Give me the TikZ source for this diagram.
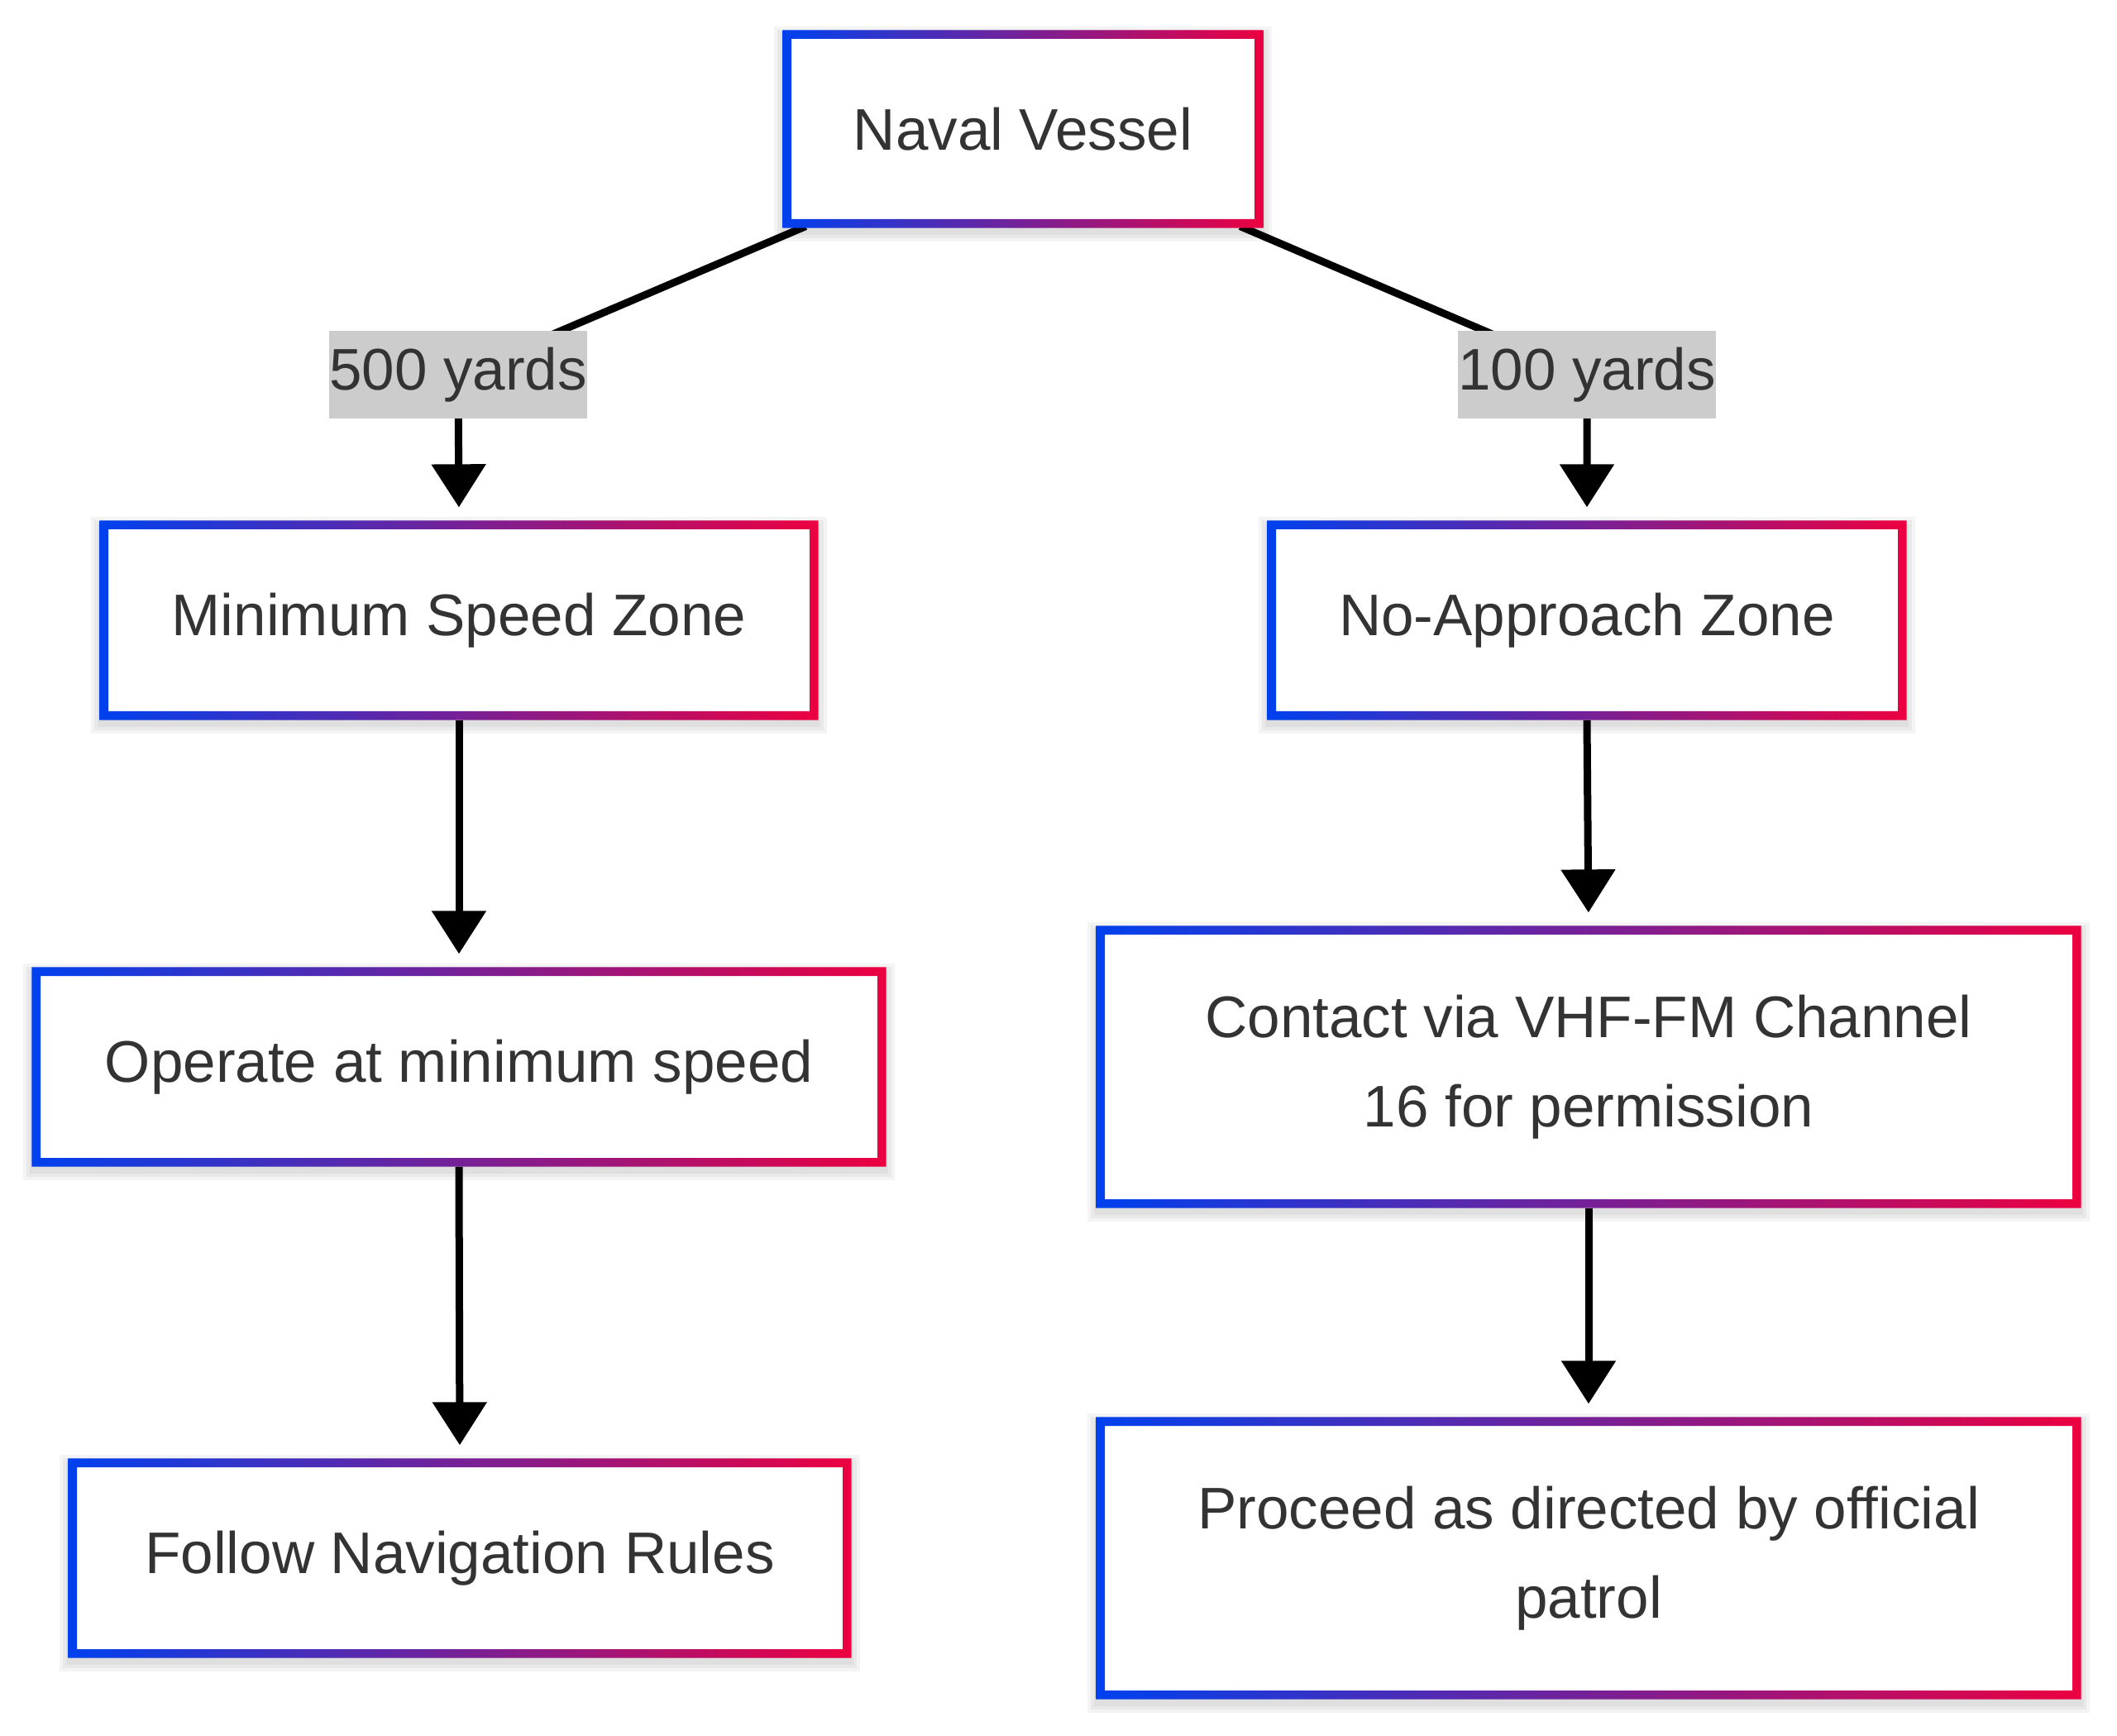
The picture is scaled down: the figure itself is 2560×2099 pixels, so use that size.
\documentclass[tikz,border=0pt]{standalone}
\usepackage{fontspec}
\setmainfont{Liberation Sans}
\usetikzlibrary{arrows.meta}
\definecolor{gblue}{RGB}{0,65,238}
\definecolor{gred}{RGB}{236,0,64}
\definecolor{txtgrey}{RGB}{51,51,51}
\definecolor{lblgrey}{RGB}{204,204,204}
\pgfdeclarelayer{bg}
\pgfsetlayers{bg,main}
\newcommand\gborder[1]{%
  \shade[left color=gblue, right color=gred, even odd rule]
    (#1.south west) rectangle (#1.north east)
    ([shift={(3.2pt,3.2pt)}]#1.south west) rectangle ([shift={(-3.2pt,-3.2pt)}]#1.north east);}
\newcommand\gshadow[1]{%
  \foreach \k in {0.8,1.8,3.0}{%
    \fill[black, opacity=0.045]
      ([shift={(-\k pt,-\k pt-1.8pt)}]#1.south west) rectangle ([shift={(\k pt,\k pt-1.8pt)}]#1.north east);}}
\tikzset{
  box/.style={rectangle, fill=white, inner sep=0pt, align=center, text=txtgrey,
    font=\fontsize{21.3}{32.5}\selectfont},
  lbl/.style={rectangle, fill=lblgrey, inner xsep=0pt, inner ysep=0pt, minimum height=31.8pt,
    text=txtgrey, font=\fontsize{21.3}{31}\selectfont},
  conn/.style={draw=black, line width=2.7pt,
    -{Triangle[width=19.2pt,length=15.6pt]}, shorten >=4.8pt},
}
\begin{document}
\begin{tikzpicture}[x=0.3pt,y=-0.3pt]
\useasboundingbox (0,0) rectangle (2560,2099);
% nodes
\node[box, minimum width=174pt, minimum height=71.4pt] (nv) at (1237,156) {Naval Vessel};
\node[box, minimum width=260.4pt, minimum height=72pt] (msz) at (555,750) {Minimum Speed Zone};
\node[box, minimum width=231.6pt, minimum height=72pt] (naz) at (1919,750) {No-Approach Zone};
\node[box, minimum width=309.6pt, minimum height=72pt] (op) at (555,1290) {Operate at minimum speed};
\node[box, minimum width=357pt, minimum height=102pt] (con) at (1921,1290) {Contact via VHF-FM Channel\\16 for permission};
\node[box, minimum width=283.8pt, minimum height=72pt] (fol) at (556,1884) {Follow Navigation Rules};
\node[box, minimum width=357pt, minimum height=102pt] (pro) at (1921,1884) {Proceed as directed by official\\patrol};
\foreach \n in {nv,msz,naz,op,con,fol,pro}{\gborder{\n}}
\node[lbl] (l1) at (554,453) {500 yards};
\node[lbl] (l2) at (1919,453) {100 yards};
\coordinate (s1) at ([xshift=8.4pt,yshift=0.6pt]nv.south west);
\coordinate (s2) at ([xshift=-8.4pt,yshift=0.6pt]nv.south east);
\begin{pgfonlayer}{bg}
\foreach \n in {nv,msz,naz,op,con,fol,pro}{\gshadow{\n}}
\draw[conn] (s1) -- (l1.center) -- (msz.north);
\draw[conn] (s2) -- (l2.center) -- (naz.north);
\draw[conn] (msz.south) -- (op.north);
\draw[conn] (op.south) -- (fol.north);
\draw[conn] (naz.south) -- (con.north);
\draw[conn] (con.south) -- (pro.north);
\end{pgfonlayer}
\end{tikzpicture}
\end{document}
